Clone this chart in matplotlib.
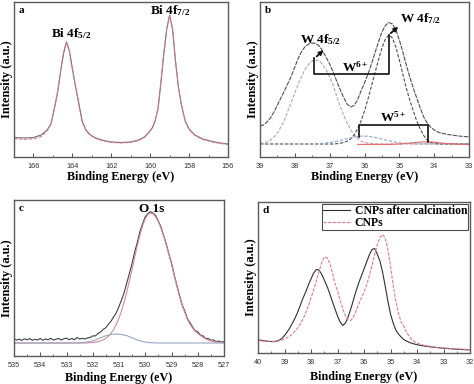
import numpy as np
import matplotlib
matplotlib.use("Agg")
import matplotlib.pyplot as plt
from matplotlib.ticker import MultipleLocator
from matplotlib.font_manager import FontProperties

plt.rcParams['mathtext.fontset'] = 'custom'
plt.rcParams['mathtext.rm'] = 'Liberation Serif:bold'
plt.rcParams['mathtext.it'] = 'Liberation Serif:italic:bold'
plt.rcParams['mathtext.bf'] = 'Liberation Serif:bold'

# ---------------- data ----------------
# panel a: Bi 4f
a_be = [167.0, 166.5, 166.0, 165.6, 165.3, 165.1, 164.9, 164.75, 164.6, 164.45, 164.3, 164.15,
        164.0, 163.85, 163.7, 163.5, 163.3, 163.1, 162.8, 162.4, 162.0, 161.5, 161.0, 160.6,
        160.3, 160.1, 159.9, 159.75, 159.6, 159.45, 159.3, 159.15, 159.0, 158.85, 158.7,
        158.55, 158.4, 158.2, 158.0, 157.7, 157.3, 156.8, 156.4, 156.0]
a_raw = [19.5, 19.0, 19.5, 22.0, 27.0, 33.0, 51.0, 66.0, 86.0, 104.0, 115.0, 106.0, 88.0, 72.0,
         57.0, 36.0, 27.0, 22.5, 19.0, 16.5, 15.0, 14.5, 15.0, 17.0, 20.0, 24.0, 29.0, 36.0,
         48.0, 74.0, 103.0, 128.0, 142.0, 128.0, 96.0, 70.0, 53.0, 36.0, 28.0, 22.0, 18.0,
         15.5, 14.0, 13.0]
a_fit = [18.3, 17.8, 18.0, 20.5, 26.0, 32.5, 51.0, 66.0, 86.5, 104.5, 115.0, 106.0, 88.5, 72.0,
         56.5, 35.5, 26.5, 22.0, 18.5, 16.0, 14.5, 14.0, 14.6, 16.5, 19.5, 23.5, 28.5, 35.5,
         48.0, 74.5, 103.5, 128.0, 141.5, 128.0, 96.5, 70.0, 52.5, 35.5, 27.5, 21.5, 17.5,
         15.0, 13.6, 12.6]

# panel b: W 4f (grid 39.0 -> 33.0, step 0.1)
b_be = np.round(np.linspace(39.0, 33.0, 61), 2)
b_env = [31, 32, 35, 39, 45, 52, 59, 66, 73.5, 81, 90,
         99, 106, 110.5, 113, 114, 113.5, 111, 106, 99.5, 93,
         85, 76, 67.5, 59.5, 53, 50, 51.5, 57, 66, 74,
         83, 93, 104, 115, 125, 131.5, 134.5, 133, 127, 117,
         105, 92, 80, 69, 59, 49, 40, 34, 30, 27,
         25, 24, 23.2, 22.5, 22, 21.5, 21, 20.7, 20.4, 20.2]
b_w6_52 = [13.5, 14, 15, 17, 20, 24, 30, 37, 46, 55, 64,
           73, 81, 88, 93, 96, 97, 96, 92.5, 87, 80,
           72, 61, 51, 42, 34, 27.5, 22.5, 18.5, 16, 14.5,
           13.8, 13.4, 13.2, 13.1, 13, 13, 13, 13, 13, 13,
           13, 13, 13, 13, 13, 13, 13, 13, 13, 13,
           13, 13, 13, 13, 13, 13, 13, 13, 13, 13]
b_w6_72 = [13, 13, 13, 13, 13, 13, 13, 13, 13, 13, 13,
           13, 13, 13, 13, 13, 13, 13, 13, 13, 13,
           13, 13.3, 13.8, 14.5, 15.8, 18, 22, 28, 36, 46,
           58, 71, 84, 97, 109, 118, 122, 119, 110, 97,
           83, 69, 57, 46, 36, 28, 21.5, 17, 14.8, 13.7,
           13.2, 13, 13, 13, 13, 13, 13, 13, 13, 13]
b_w5a_be = [39.0, 37.6, 37.3, 37.1, 36.9, 36.7, 36.5, 36.3, 36.1, 35.9, 35.7, 35.5, 35.3, 35.1,
            34.9, 34.6, 33.0]
b_w5a = [13, 13, 13.4, 14.0, 15.0, 16.5, 18.3, 19.9, 20.9, 20.8, 19.6, 17.9, 16.2, 14.8,
         13.8, 13.2, 13]
b_w5b_be = [36.2, 35.3, 35.0, 34.8, 34.6, 34.4, 34.2, 34.0, 33.8, 33.6, 33.3, 33.0]
b_w5b = [12.6, 12.6, 13.0, 13.6, 14.4, 15.0, 15.2, 14.8, 14.0, 13.3, 12.8, 12.6]
# annotation geometry (eV, intensity)
b_w6_bracket_x = [37.46, 37.46, 35.31, 35.31]
b_w6_bracket_y = [98.7, 82.7, 82.7, 122.0]
b_w5_bracket_x = [36.17, 36.17, 34.19, 34.19]
b_w5_bracket_y = [20.3, 32.0, 32.0, 15.3]

# panel c: O 1s (grid 535.0 -> 527.0, step 0.1)
c_be = np.round(np.linspace(535.0, 527.0, 81), 2)
c_raw = [17.3, 15.9, 16.9, 15.6, 17.2, 16.2, 17.4, 15.7, 16.7, 16.0,
         17.5, 15.8, 17.0, 16.3, 17.7, 15.9, 16.8, 17.6, 16.0, 17.1,
         17.9, 16.3, 17.6, 16.2, 18.5, 16.9, 17.7, 17.0, 18.1, 18.4,
         20.1, 20.1, 22.5, 24.0, 26.7, 28.3, 31.9, 35.0, 39.3, 43.3,
         49.6, 56.3, 63.7, 73.4, 82.9, 92.8, 104.2, 114.0, 124.7, 132.4,
         139.2, 142.4, 144.4, 142.7, 140.3, 134.8, 129.0, 120.4, 112.3, 102.0,
         93.2, 81.6, 71.2, 61.3, 51.5, 45.4, 37.6, 33.5, 29.1, 25.4,
         24.2, 21.0, 20.1, 17.5, 17.5, 15.7, 16.1, 14.4, 15.0, 13.9,
         14.4]
c_fit = [13.0] * 28 + [13.1, 13.3, 13.5, 13.9, 14.3, 15.1, 16.1, 17.7, 19.9, 22.8, 26.7, 31.7,
                       37.9, 45.4, 54.2, 64.3, 75.4, 87.1, 99, 110.6, 121.2, 130.3, 137.2,
                       141.5, 143, 142, 139, 134.2, 127.7, 120, 111.2, 101.7, 91.8, 81, 70, 60,
                       51, 44, 37, 32, 28, 25, 22.5, 20.5, 18.7, 17.2, 16, 15.1, 14.4, 14,
                       13.7, 13.4, 13.2]
c_o2_be = [535.0, 533.0, 532.5, 532.3, 532.1, 531.9, 531.7, 531.5, 531.3, 531.1, 530.9, 530.7,
           530.5, 530.3, 530.1, 529.9, 529.7, 529.5, 528.5, 527.0]
c_o2 = [13.0, 13.0, 13.2, 13.6, 14.5, 16.0, 18.2, 20.3, 21.6, 22.0, 21.6, 20.3, 18.2, 16.0,
        14.5, 13.6, 13.2, 13.0, 13.0, 13.0]

# panel d: W 4f comparison (grid 40.0 -> 32.0, step 0.1)
d_be = np.round(np.linspace(40.0, 32.0, 81), 2)
d_calc = [13.0, 12.8, 12.3, 12.0, 11.6, 11.5, 11.4, 11.8, 12.8, 14.5,
          17.5, 21, 25, 30, 35, 41, 48, 55, 61, 68,
          74, 80, 83.5, 83, 79, 73, 67, 60, 52, 44.5,
          37, 31, 27.5, 30, 36, 44, 53, 62, 70, 77,
          84, 91, 98, 103.5, 104.5, 99, 92, 81, 67, 52,
          39, 30, 23, 19, 16, 13.5, 12, 10.8, 9.8, 9.0,
          8.3, 7.8, 7.3, 6.9, 6.5, 6.2, 5.9, 5.6, 5.3, 5.0,
          4.8, 4.6, 4.4, 4.2, 4.0, 3.8, 3.6, 3.5, 3.3, 3.2,
          3.1]
d_cnp = [12.5, 12.2, 12.0, 11.8, 11.8, 11.6, 11.7, 11.8, 12.2, 12.8,
         14, 15.5, 17, 19, 22, 25, 29, 34, 40, 47,
         55, 63, 72, 81, 90, 96, 95.5, 90, 81, 70,
         62, 53, 44, 37, 33, 32.5, 36, 42, 49, 55,
         61, 68, 77, 87, 98, 108, 115.5, 118.5, 115, 104,
         87, 68, 52, 40, 31, 27, 21, 17, 13.5, 11.5,
         10, 9.0, 8.2, 7.5, 7.0, 6.5, 6.1, 5.8, 5.5, 5.2,
         5.0, 4.8, 4.6, 4.4, 4.2, 4.0, 3.9, 3.8, 3.7, 3.6,
         3.5]
d_labels = ["CNPs after calcination", "CNPs"]

# ---------------- figure ----------------
W, H = 474, 384
fig = plt.figure(figsize=(W / 100, H / 100), dpi=100)

def px_axes(l, t, r, b):
    return fig.add_axes([l / W, 1 - b / H, (r - l) / W, (b - t) / H])

axa = px_axes(14, 2, 228, 157)
axb = px_axes(260, 2, 469, 157)
axc = px_axes(14, 200, 224, 356)
axd = px_axes(258, 202, 470, 353)

SERIF = 'Liberation Serif'
tickfont = FontProperties(family='Liberation Sans', size=5.3)
ANN = 9.5

def style(ax, xlim, ylim, major, minor, letter, xlabelpad=1):
    ax.set_xlim(*xlim)
    ax.set_ylim(*ylim)
    ax.xaxis.set_major_locator(MultipleLocator(major))
    ax.xaxis.set_minor_locator(MultipleLocator(minor))
    ax.set_yticks([])
    ax.tick_params(axis='x', which='major', direction='in', length=3, width=0.6,
                   pad=4, colors='#333333')
    ax.tick_params(axis='x', which='minor', direction='in', length=1.8, width=0.5,
                   colors='#333333')
    for lab in ax.get_xticklabels():
        lab.set_fontproperties(tickfont)
    for s in ax.spines.values():
        s.set_color('#5a5a5a')
        s.set_linewidth(1.0)
    ax.set_xlabel('Binding Energy (eV)', family=SERIF, fontweight='bold', fontsize=8.7,
                  labelpad=xlabelpad)
    ax.set_ylabel('Intensity (a.u.)', family=SERIF, fontweight='bold', fontsize=9,
                  labelpad=1)
    ax.text(0.022, 0.975, letter, transform=ax.transAxes, ha='left', va='top',
            family=SERIF, fontweight='bold', fontsize=8)

# panel a
axa.plot(a_be, a_raw, color='#707070', lw=0.8)
axa.plot(a_be, a_fit, color='#d8788a', lw=0.8, ls=(0, (3, 1.5)))
style(axa, (167, 156), (0, 155), 2, 1, 'a')
axa.text(164.05, 123, r'Bi 4f$_{\mathrm{5/2}}$', ha='center', va='center', family=SERIF,
         fontweight='bold', fontsize=ANN)
axa.text(158.95, 146, r'Bi 4f$_{\mathrm{7/2}}$', ha='center', va='center', family=SERIF,
         fontweight='bold', fontsize=ANN)

# panel b
axb.plot(b_be, b_env, color='#505050', lw=0.8, ls=(0, (4, 1)))
axb.plot(b_be, b_w6_52, color='#c89aa8', lw=0.8, ls=(0, (3, 1.5)))
axb.plot(b_be, b_w6_72, color='#505050', lw=0.8, ls=(0, (3, 1.5)))
axb.plot(b_w5a_be, b_w5a, color='#8ea4c4', lw=0.8, ls=(0, (3, 1.5)))
axb.plot(b_w5b_be, b_w5b, color='#e06a6a', lw=0.8)
axb.plot(b_w6_bracket_x, b_w6_bracket_y, color='#111111', lw=1.2)
axb.plot(b_w5_bracket_x, b_w5_bracket_y, color='#111111', lw=1.2)
axb.annotate('', xy=(37.12, 108.7), xytext=(37.43, 98.7),
             arrowprops=dict(arrowstyle='-|>', color='#111111', lw=1.3, mutation_scale=6))
axb.annotate('', xy=(34.97, 132.0), xytext=(35.31, 122.0),
             arrowprops=dict(arrowstyle='-|>', color='#111111', lw=1.3, mutation_scale=6))
style(axb, (39, 33), (0, 155), 1, 0.5, 'b')
axb.text(37.25, 117, r'W 4f$_{\mathrm{5/2}}$', ha='center', va='center', family=SERIF,
         fontweight='bold', fontsize=ANN)
axb.text(34.4, 138, r'W 4f$_{\mathrm{7/2}}$', ha='center', va='center', family=SERIF,
         fontweight='bold', fontsize=ANN)
axb.text(36.27, 90, r'W$^{\mathrm{6+}}$', ha='center', va='center', family=SERIF,
         fontweight='bold', fontsize=ANN)
axb.text(35.17, 40, r'W$^{\mathrm{5+}}$', ha='center', va='center', family=SERIF,
         fontweight='bold', fontsize=ANN)

# panel c
axc.plot(c_be, c_raw, color='#404040', lw=0.8)
axc.plot(c_be, c_fit, color='#d68a9a', lw=0.8)
axc.plot(c_o2_be, c_o2, color='#98a6c0', lw=0.8)
style(axc, (535, 527), (0, 156), 1, 0.5, 'c', xlabelpad=2.3)
axc.text(529.76, 147, 'O 1s', ha='center', va='center', family=SERIF, fontweight='bold',
         fontsize=ANN)

# panel d
axd.plot(d_be, d_calc, color='#303030', lw=0.8, label=d_labels[0])
axd.plot(d_be, d_cnp, color='#e07c8c', lw=0.8, ls=(0, (3, 1.2)), label=d_labels[1])
style(axd, (40, 32), (0, 151), 1, 0.5, 'd', xlabelpad=4.0)
leg = axd.legend(loc='upper right', prop=FontProperties(family=SERIF, weight='bold', size=8.4),
                 frameon=True, fancybox=False, borderaxespad=0.15, borderpad=0.1,
                 labelspacing=0.0, handlelength=2.3, handletextpad=0.4)
leg.get_frame().set_edgecolor('#222222')
leg.get_frame().set_linewidth(0.8)

fig.savefig('out.png', dpi=100)
